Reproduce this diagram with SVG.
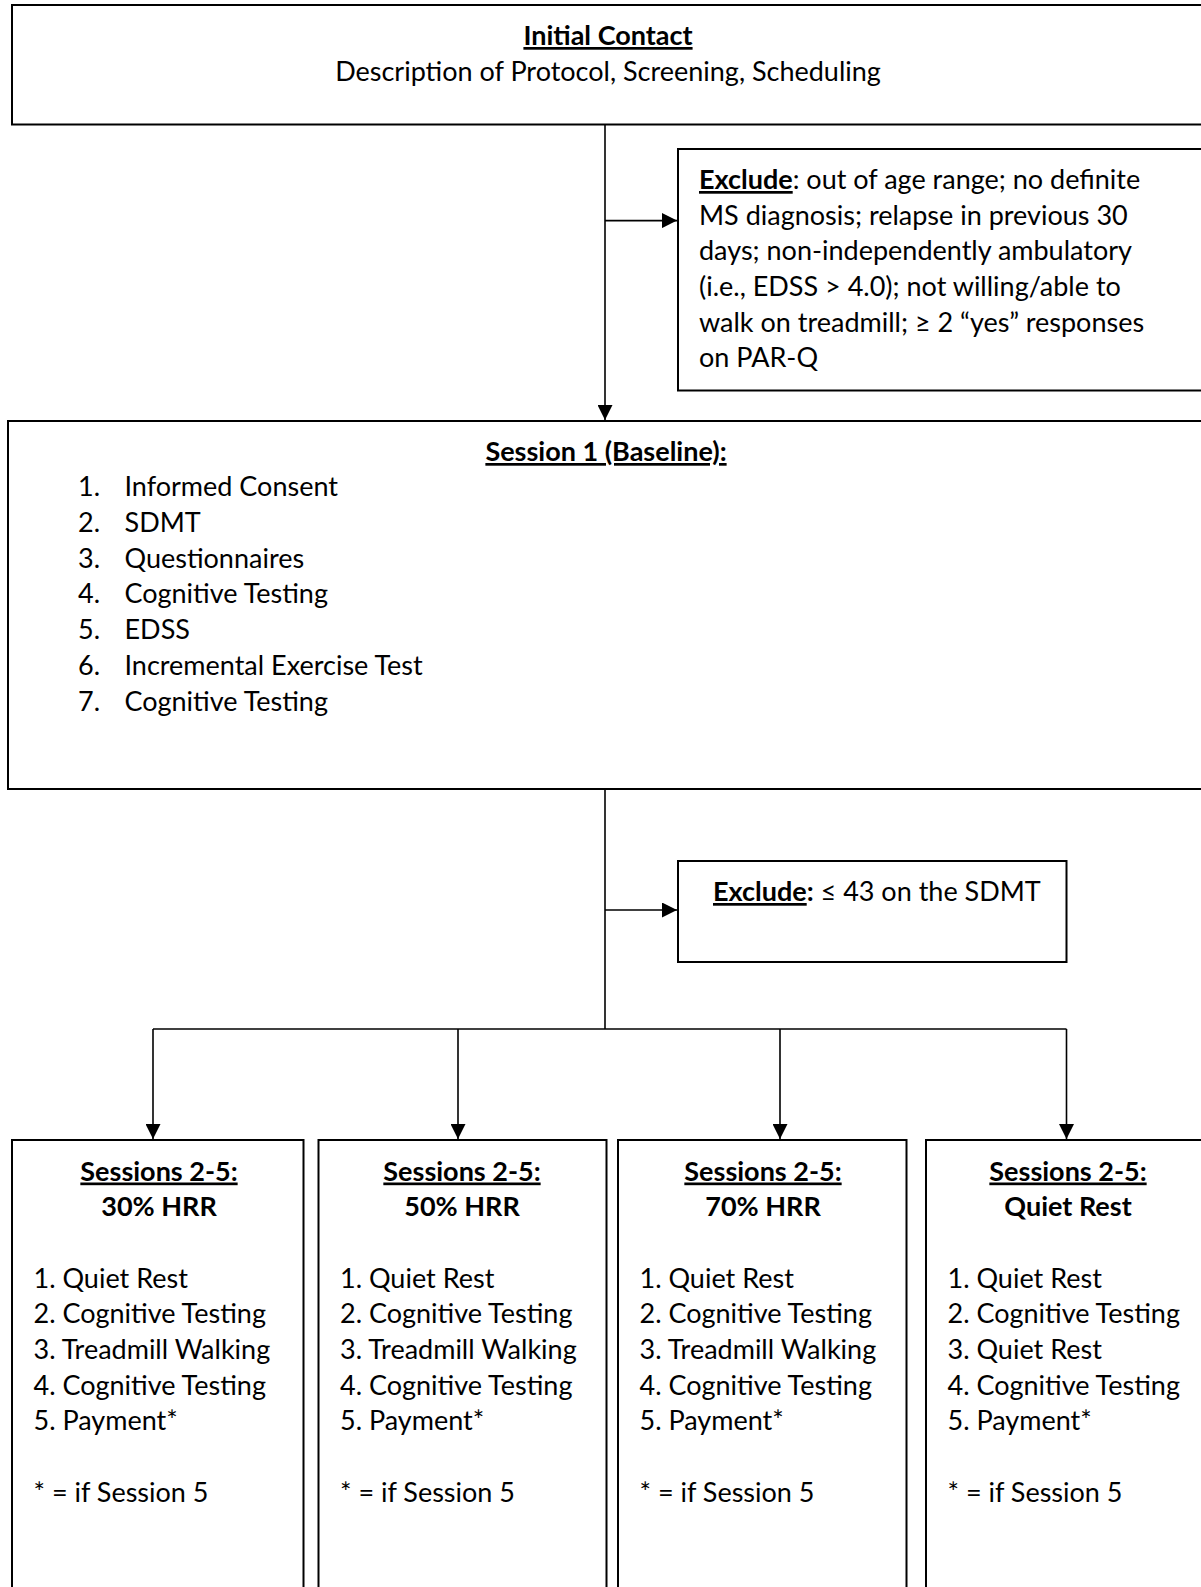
<svg xmlns="http://www.w3.org/2000/svg" width="1201" height="1587" viewBox="0 0 1201 1587">
<style>
.box{fill:#fff;stroke:#000;stroke-width:2}
.con{fill:none;stroke:#000;stroke-width:1.6}
text{font-family:Lato,"Open Sans","Liberation Sans",sans-serif;font-size:27px;fill:#000}
.b{font-weight:bold}
.u{text-decoration:underline}
.c{text-anchor:middle}
</style>
<defs>
<marker id="ah" markerUnits="userSpaceOnUse" markerWidth="15" markerHeight="15" refX="15" refY="7.5" orient="auto">
<path d="M0,0 L15,7.5 L0,15 z" fill="#000"/>
</marker>
</defs>
<rect width="1201" height="1587" fill="#fff"/>
<g id="connectors">
<line class="con" x1="605" y1="124.5" x2="605" y2="420" marker-end="url(#ah)"/>
<line class="con" x1="605" y1="220.6" x2="677" y2="220.6" marker-end="url(#ah)"/>
<line class="con" x1="605" y1="789" x2="605" y2="1029"/>
<line class="con" x1="605" y1="910" x2="677" y2="910" marker-end="url(#ah)"/>
<line class="con" x1="153" y1="1029" x2="1066.5" y2="1029"/>
<line class="con" x1="153" y1="1029" x2="153" y2="1139" marker-end="url(#ah)"/>
<line class="con" x1="458" y1="1029" x2="458" y2="1139" marker-end="url(#ah)"/>
<line class="con" x1="780" y1="1029" x2="780" y2="1139" marker-end="url(#ah)"/>
<line class="con" x1="1066.5" y1="1029" x2="1066.5" y2="1139" marker-end="url(#ah)"/>
</g>
<g id="initial-contact">
<rect class="box" x="12" y="5" width="1200" height="119.5"/>
<text class="c b u" x="608" y="45">Initial Contact</text>
<text class="c" x="608" y="81">Description of Protocol, Screening, Scheduling</text>
</g>
<g id="exclude-1">
<rect class="box" x="678" y="149" width="540" height="241.5"/>
<text x="699" y="189"><tspan class="b u">Exclude</tspan>: out of age range; no definite</text>
<text x="699" y="224.6">MS diagnosis; relapse in previous 30</text>
<text x="699" y="260.3">days; non-independently ambulatory</text>
<text x="699" y="296">(i.e., EDSS &gt; 4.0); not willing/able to</text>
<text x="699" y="331.7">walk on treadmill; ≥ 2 “yes” responses</text>
<text x="699" y="367.4">on PAR-Q</text>
</g>
<g id="session-1">
<rect class="box" x="8" y="421" width="1210" height="368"/>
<text class="c b u" x="606" y="461">Session 1 (Baseline):</text>
<text x="78" y="496">1.</text><text x="124.5" y="496">Informed Consent</text>
<text x="78" y="531.8">2.</text><text x="124.5" y="531.8">SDMT</text>
<text x="78" y="567.6">3.</text><text x="124.5" y="567.6">Questionnaires</text>
<text x="78" y="603.4">4.</text><text x="124.5" y="603.4">Cognitive Testing</text>
<text x="78" y="639.2">5.</text><text x="124.5" y="639.2">EDSS</text>
<text x="78" y="675">6.</text><text x="124.5" y="675">Incremental Exercise Test</text>
<text x="78" y="710.8">7.</text><text x="124.5" y="710.8">Cognitive Testing</text>
</g>
<g id="exclude-2">
<rect class="box" x="678" y="861" width="388.5" height="101"/>
<text x="713" y="901"><tspan class="b u">Exclude</tspan><tspan class="b">:</tspan> ≤ 43 on the SDMT</text>
</g>
<g id="sessions-30">
<rect class="box" x="12" y="1140" width="291.5" height="460"/>
<text class="c b u" x="159" y="1180.5">Sessions 2-5:</text>
<text class="c b" x="159" y="1215.5">30% HRR</text>
<text x="33.5" y="1287.5">1. Quiet Rest</text>
<text x="33.5" y="1323.2">2. Cognitive Testing</text>
<text x="33.5" y="1358.9">3. Treadmill Walking</text>
<text x="33.5" y="1394.6">4. Cognitive Testing</text>
<text x="33.5" y="1430.3">5. Payment*</text>
<text x="33.5" y="1501.7">* = if Session 5</text>
</g>
<g id="sessions-50">
<rect class="box" x="318.5" y="1140" width="288" height="460"/>
<text class="c b u" x="462" y="1180.5">Sessions 2-5:</text>
<text class="c b" x="462" y="1215.5">50% HRR</text>
<text x="340" y="1287.5">1. Quiet Rest</text>
<text x="340" y="1323.2">2. Cognitive Testing</text>
<text x="340" y="1358.9">3. Treadmill Walking</text>
<text x="340" y="1394.6">4. Cognitive Testing</text>
<text x="340" y="1430.3">5. Payment*</text>
<text x="340" y="1501.7">* = if Session 5</text>
</g>
<g id="sessions-70">
<rect class="box" x="618" y="1140" width="288.5" height="460"/>
<text class="c b u" x="763" y="1180.5">Sessions 2-5:</text>
<text class="c b" x="763" y="1215.5">70% HRR</text>
<text x="639.5" y="1287.5">1. Quiet Rest</text>
<text x="639.5" y="1323.2">2. Cognitive Testing</text>
<text x="639.5" y="1358.9">3. Treadmill Walking</text>
<text x="639.5" y="1394.6">4. Cognitive Testing</text>
<text x="639.5" y="1430.3">5. Payment*</text>
<text x="639.5" y="1501.7">* = if Session 5</text>
</g>
<g id="sessions-quiet">
<rect class="box" x="926" y="1140" width="290" height="460"/>
<text class="c b u" x="1068" y="1180.5">Sessions 2-5:</text>
<text class="c b" x="1068" y="1215.5">Quiet Rest</text>
<text x="947.5" y="1287.5">1. Quiet Rest</text>
<text x="947.5" y="1323.2">2. Cognitive Testing</text>
<text x="947.5" y="1358.9">3. Quiet Rest</text>
<text x="947.5" y="1394.6">4. Cognitive Testing</text>
<text x="947.5" y="1430.3">5. Payment*</text>
<text x="947.5" y="1501.7">* = if Session 5</text>
</g>
</svg>
